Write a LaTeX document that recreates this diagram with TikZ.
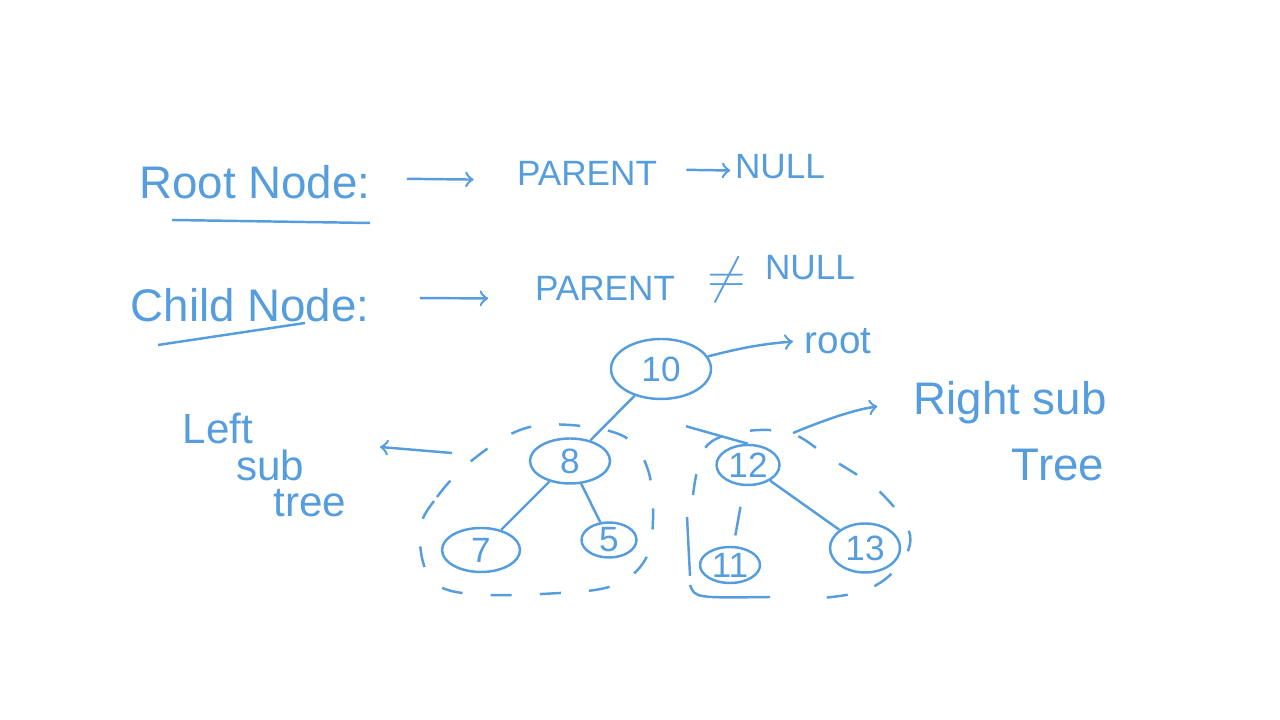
\documentclass[tikz,border=0pt]{standalone}
\usepackage{fontspec}
\setmainfont{Liberation Sans}
\definecolor{ink}{RGB}{86,157,222}
\tikzset{
    txt/.style={text=ink, inner sep=1pt, font=\fontsize{13}{15}\selectfont},
    small/.style={text=ink, inner sep=1pt, font=\fontsize{10}{12}\selectfont},
    tnode/.style={draw=ink, ellipse, inner sep=0pt, text=ink, font=\fontsize{10}{12}\selectfont},
    dashpat/.style={dash pattern=on 6pt off 8pt}
}
\usetikzlibrary{shapes.geometric}
\begin{document}
\begin{tikzpicture}[>=to, line width=0.7pt, ink]
    % 1. Khung hình
    \useasboundingbox (0, 0) rectangle (12.8, 7.2);

    % 2. Root node: PARENT -> NULL
    \node[txt] (rootdef) at (2.55, 5.38) {Root Node:};
    \draw (1.72, 5.00) -- (3.70, 4.97);
    \node[small] (parent1) at (5.87, 5.47) {PARENT};
    \node[small] (null1) at (7.80, 5.53) {NULL};
    \draw[->, shorten <=9pt, shorten >=11pt] ([yshift=1pt]rootdef.east) -- ([yshift=-2pt]parent1.west);
    \draw[->, shorten <=7pt] ([yshift=1pt]parent1.east) -- ([yshift=-1pt]null1.west);

    % 3. Child node: PARENT != NULL
    \node[txt] (childdef) at (2.50, 4.15) {Child Node:};
    \draw (1.58, 3.75) -- (3.05, 3.97);
    \node[small] (parent2) at (6.05, 4.32) {PARENT};
    \node[text=ink, inner sep=0pt, font=\fontsize{15}{17}\selectfont] (neq) at (7.27, 4.40) {$\neq$};
    \node[small] (null2) at (8.10, 4.52) {NULL};
    \draw[->, shorten <=13pt, shorten >=12pt] ([yshift=2pt]childdef.east) -- ([yshift=-3pt]parent2.west);

    % 4. Cây nhị phân
    \node[tnode, minimum width=1.0cm, minimum height=0.6cm] (n10) at (6.61, 3.51) {10};
    \node[tnode, minimum width=0.8cm, minimum height=0.45cm] (n8) at (5.70, 2.59) {8};
    \node[tnode, minimum width=0.63cm, minimum height=0.40cm] (n12) at (7.48, 2.55) {12};
    \node[tnode, minimum width=0.78cm, minimum height=0.44cm] (n7) at (4.81, 1.70) {7};
    \node[tnode, minimum width=0.55cm, minimum height=0.35cm] (n5) at (6.09, 1.80) {5};
    \node[tnode, minimum width=0.60cm, minimum height=0.36cm] (n11) at (7.30, 1.55) {11};
    \node[tnode, minimum width=0.70cm, minimum height=0.49cm] (n13) at (8.65, 1.72) {13};

    \draw (n8) -- (n10);
    \draw ([xshift=0.25cm, yshift=-0.26cm]n10.south) -- (n12.north);
    \draw (n8) -- (n7);
    \draw (n8) -- (n5);
    \draw (n12) -- (n13);
    \draw[shorten <=6pt, shorten >=3pt] (n12) -- (n11);

    % nhãn root
    \node[small, font=\fontsize{11}{13}\selectfont] (rootlbl) at (8.38, 3.79) {root};
    \draw[->, shorten >=2pt] (n10.15) to[bend left=5] (rootlbl.west);

    % 5. Cây con trái và phải (nét đứt)
    \draw[dashpat] plot[smooth cycle, tension=0.6] coordinates {(4.20,1.90) (4.37,2.23) (4.70,2.58)
        (5.20,2.90) (5.70,2.95) (6.25,2.83) (6.48,2.50) (6.53,2.00) (6.45,1.60) (6.15,1.35)
        (5.60,1.27) (4.70,1.26) (4.30,1.42)};
    \draw[dashpat] plot[smooth, tension=0.6] coordinates {(6.93,2.25) (7.05,2.72) (7.40,2.88)
        (7.90,2.87) (8.30,2.62) (8.80,2.28) (9.10,1.85) (8.95,1.50) (8.60,1.28) (8.00,1.20)};

    % nét khoanh quanh 11
    \draw (6.87, 2.03) -- (6.90, 1.44);
    \draw (6.90, 1.35) .. controls (6.95, 1.22) .. (7.70, 1.23);

    % Left sub tree
    \node[txt, font=\fontsize{12}{14}\selectfont] (left1) at (2.18, 2.92) {Left};
    \node[txt, font=\fontsize{12}{14}\selectfont] (left2) at (2.70, 2.55) {sub};
    \node[txt, font=\fontsize{12}{14}\selectfont] (left3) at (3.10, 2.17) {tree};
    \coordinate (leftstart) at (4.52, 2.67);
    \coordinate (leftend) at (3.80, 2.73);
    \draw[->] (leftstart) -- (leftend);

    % Right sub Tree
    \node[txt] (right1) at (10.10, 3.17) {Right sub};
    \node[txt] (right2) at (10.58, 2.55) {Tree};
    \coordinate (rightstart) at (7.93, 2.87);
    \draw[->, shorten >=9pt] (rightstart) to[bend left=8] (right1.west);

\end{tikzpicture}
\end{document}
